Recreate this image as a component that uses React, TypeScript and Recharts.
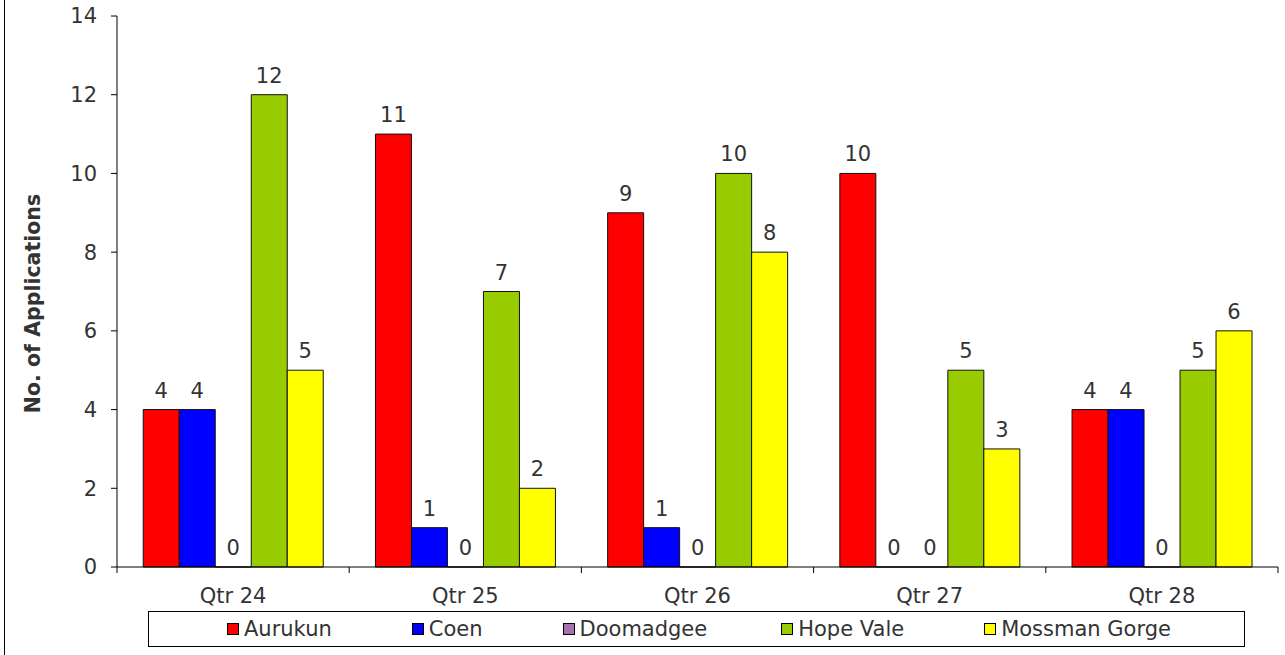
import React from "react";
import {
  BarChart,
  Bar,
  XAxis,
  YAxis,
  Legend,
  LabelList,
  Label,
} from "recharts";

const quarters = ["Qtr 24", "Qtr 25", "Qtr 26", "Qtr 27", "Qtr 28"];
const aurukun = [4, 11, 9, 10, 4];
const coen = [4, 1, 1, 0, 4];
const doomadgee = [0, 0, 0, 0, 0];
const hopeVale = [12, 7, 10, 5, 5];
const mossmanGorge = [5, 2, 8, 3, 6];
const yTicks = [0, 2, 4, 6, 8, 10, 12, 14];

const seriesDefs = [
  { key: "Aurukun", values: aurukun, color: "#FF0000" },
  { key: "Coen", values: coen, color: "#0000FF" },
  { key: "Doomadgee", values: doomadgee, color: "#A672AE" },
  { key: "Hope Vale", values: hopeVale, color: "#99CC00" },
  { key: "Mossman Gorge", values: mossmanGorge, color: "#FFFF00" },
];

const legendGaps = [0, 80, 80, 74, 80];

const data = quarters.map((q, i) => {
  const row: Record<string, any> = { name: q };
  seriesDefs.forEach((s) => {
    row[s.key] = s.values[i];
  });
  return row;
});

const FONT = "'DejaVu Sans', Verdana, sans-serif";
const TEXT = "#333333";

const XTick = (props: any) => {
  const { x, y, payload, index, width, visibleTicksCount } = props;
  const count = visibleTicksCount || quarters.length;
  const band = (width || 1161) / count;
  const axisY = y - 6;
  const left = x - band / 2;
  const right = x + band / 2;
  return (
    <g>
      <line x1={left} y1={axisY} x2={left} y2={axisY + 6} stroke="#000" strokeWidth={1} />
      {index === count - 1 && (
        <line x1={right} y1={axisY} x2={right} y2={axisY + 6} stroke="#000" strokeWidth={1} />
      )}
      <text
        x={x}
        y={axisY + 36}
        textAnchor="middle"
        fill={TEXT}
        fontSize={21}
        fontFamily={FONT}
      >
        {payload.value}
      </text>
    </g>
  );
};

const LegendContent = (props: any) => {
  const payload = props.payload || [];
  return (
    <div
      style={{
        boxSizing: "border-box",
        height: 36,
        border: "1px solid #000",
        display: "flex",
        alignItems: "center",
        paddingLeft: 78,
        fontFamily: FONT,
        fontSize: 21,
        color: TEXT,
      }}
    >
      {payload.map((p: any, i: number) => (
        <div
          key={p.value}
          style={{
            display: "flex",
            alignItems: "center",
            marginLeft: legendGaps[i] ?? 80,
            whiteSpace: "nowrap",
          }}
        >
          <span
            style={{
              display: "inline-block",
              boxSizing: "border-box",
              width: 12,
              height: 12,
              background: p.color,
              border: "1px solid #000",
              marginRight: 5,
            }}
          />
          <span>{p.value}</span>
        </div>
      ))}
    </div>
  );
};

const YLabel = (props: any) => {
  const vb = props.viewBox || { x: 0, y: 16, width: 117, height: 551 };
  const cx = 33;
  const cy = vb.y + vb.height / 2 + 12;
  return (
    <text
      x={cx}
      y={cy}
      transform={`rotate(-90, ${cx}, ${cy})`}
      textAnchor="middle"
      dominantBaseline="central"
      fontSize={20.5}
      fontWeight="bold"
      fontFamily={FONT}
      fill={TEXT}
    >
      No. of Applications
    </text>
  );
};

const BarValueLabel = (props: any) => {
  const { x, y, width, height, value } = props;
  if (value === undefined || value === null) return null;
  const top = Math.min(Number(y), Number(y) + Number(height || 0));
  const topY = Number(value) === 0 ? Number(y) + Number(height || 0) : top;
  return (
    <text
      x={Number(x) + Number(width) / 2}
      y={Math.max(topY, top) - 12}
      textAnchor="middle"
      fill={TEXT}
      fontSize={21}
      fontFamily={FONT}
    >
      {value}
    </text>
  );
};

export default function App() {
  return (
    <div
      style={{
        position: "absolute",
        left: 0,
        top: 0,
        width: 1285,
        height: 655,
        background: "#fff",
      }}
    >
      <div
        style={{
          position: "absolute",
          left: 4,
          top: 0,
          width: 1,
          height: 655,
          background: "#000",
        }}
      />
      <BarChart
        width={1285}
        height={655}
        data={data}
        margin={{ top: 16, right: 7, left: 0, bottom: 8 }}
        barCategoryGap="11.3%"
        barGap={0}
      >
        <XAxis
          dataKey="name"
          height={44}
          axisLine={{ stroke: "#000" }}
          tickLine={false}
          tickSize={6}
          tickMargin={0}
          tick={<XTick />}
          interval={0}
        />
        <YAxis
          width={117}
          domain={[0, 14]}
          ticks={yTicks}
          interval={0}
          allowDecimals={false}
          axisLine={{ stroke: "#000" }}
          tickLine={{ stroke: "#000" }}
          tickSize={6}
          tickMargin={14}
          tick={{ fill: TEXT, fontSize: 21, fontFamily: FONT }}
        >
          <Label content={<YLabel />} />
        </YAxis>
        <Legend
          verticalAlign="bottom"
          content={<LegendContent />}
          wrapperStyle={{ left: 148, width: 1097, bottom: 8 }}
        />
        {seriesDefs.map((s) => (
          <Bar
            key={s.key}
            dataKey={s.key}
            fill={s.color}
            stroke="#111"
            strokeWidth={1}
            minPointSize={0.01}
            isAnimationActive={false}
          >
            <LabelList dataKey={s.key} content={<BarValueLabel />} />
          </Bar>
        ))}
      </BarChart>
    </div>
  );
}
